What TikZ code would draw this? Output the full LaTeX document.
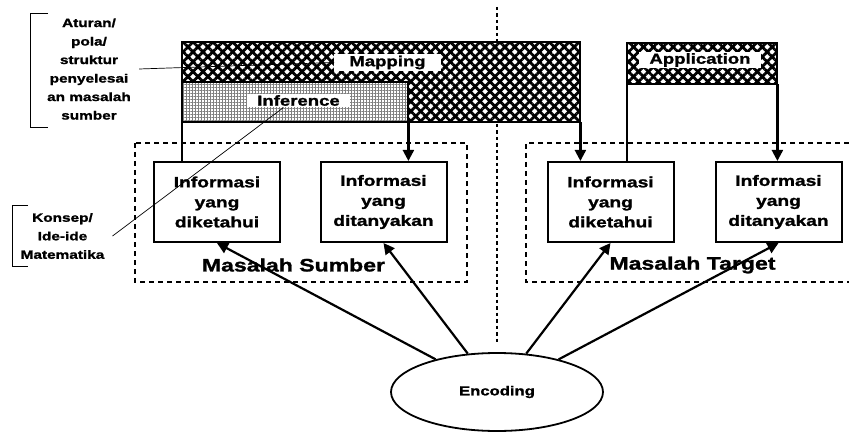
\documentclass[tikz,border=0pt]{standalone}
\usepackage{fontspec}
\setmainfont{Liberation Sans Bold}[FakeStretch=1.28,FakeBold=1.4]
\usetikzlibrary{shapes.geometric,arrows.meta,patterns.meta}

\tikzset{
  infobox/.style={draw,line width=2pt,minimum width=126pt,minimum height=80pt,
    inner sep=0pt,align=center,font=\fontsize{15}{20}\selectfont},
  tag/.style={fill=white,inner xsep=10pt,inner ysep=1.5pt,
    font=\fontsize{14.5}{17}\selectfont},
  hatch/.style={fill=white,
    postaction={pattern={Lines[angle=45,distance=7pt,line width=2.8pt]}},
    postaction={pattern={Lines[angle=-45,distance=7pt,line width=2.8pt]}},
    postaction={draw,line width=2.2pt}},
  mesh/.style={fill=white,
    postaction={pattern={Lines[angle=0,distance=3pt,line width=1pt]},pattern color=black!50},
    postaction={pattern={Lines[angle=90,distance=3pt,line width=1pt]},pattern color=black!50},
    postaction={draw,line width=2pt}},
  region/.style={dash pattern=on 5pt off 4pt,line width=1.5pt},
  note/.style={align=center,inner sep=8pt,font=\fontsize{12}{18.5}\selectfont},
  flow/.style={-{Triangle[length=11pt,width=11pt]},line width=2.2pt},
}

\begin{document}
\begin{tikzpicture}[x=1pt,y=-1pt]
  \useasboundingbox (0,0) rectangle (849,433);

  % Divider
  \draw[line width=2.2pt,dash pattern=on 3.5pt off 3pt] (497,7) -- (497,343);

  % Regions
  \draw[region] (135,143) rectangle (467,282);
  \draw[region] (849,143) -- (526,143) -- (526,282) -- (849,282);
  \node[font=\fontsize{18}{18}\selectfont] (srcname) at (293.5,265) {Masalah Sumber};
  \node[font=\fontsize{18}{18}\selectfont] (tgtname) at (692.5,265) {Masalah Target};

  % Schema bars
  \node[hatch,anchor=north west,minimum width=398pt,minimum height=80pt,inner sep=0pt] (map) at (182,42) {};
  \node[mesh,anchor=north west,minimum width=226pt,minimum height=40pt,inner sep=0pt] (inf) at (182,82) {};
  \node[hatch,anchor=north west,minimum width=150pt,minimum height=41pt,inner sep=0pt] (app) at (627,43) {};
  \node[tag,inner xsep=15pt] (maplbl) at (387.5,62.5) {Mapping};
  \node[tag] (inflbl) at (298.5,100.5) {Inference};
  \node[tag] (applbl) at (700,60) {Application};

  % Information boxes
  \node[infobox] (s1) at (217,202) {Informasi\\yang\\diketahui};
  \node[infobox] (s2) at (383.5,202) {Informasi\\yang\\ditanyakan};
  \node[infobox] (t1) at (610.5,202) {Informasi\\yang\\diketahui};
  \node[infobox] (t2) at (778.5,202) {Informasi\\yang\\ditanyakan};

  % Links from the bars
  \draw[line width=1.8pt] (inf.south west) -- (inf.south west |- s1.north);
  \draw[flow] (inf.south east) -- (inf.south east |- s2.north);
  \draw[flow] (map.south east) -- (map.south east |- t1.north);
  \draw[line width=1.8pt] (app.south west) -- (app.south west |- t1.north);
  \draw[flow] (app.south east) -- (app.south east |- t2.north);

  % Encoding
  \node[ellipse,draw,fill=white,line width=1.8pt,minimum width=212pt,minimum height=78pt,
    font=\fontsize{13}{13}\selectfont] (enc) at (497,392) {Encoding};
  \foreach \b in {s1,s2,t1,t2}
    \draw[flow] (enc) -- (\b.south);

  % Side notes
  \node[note] (rule) at (89,69) {Aturan/\\pola/\\struktur\\penyelesai\\an masalah\\sumber};
  \draw[line width=0.8pt] (48,13) -- (30,13) -- (30,127) -- (48,127);
  \draw[line width=0.7pt] (rule.east) -- (maplbl.west);
  \node[note] (idea) at (62.5,236) {Konsep/\\Ide-ide\\Matematika};
  \draw[line width=0.8pt] (28,205) -- (12,205) -- (12,266) -- (28,266);
  \draw[line width=0.7pt] (idea.east) -- ([xshift=-15pt]inflbl.south);
\end{tikzpicture}
\end{document}
